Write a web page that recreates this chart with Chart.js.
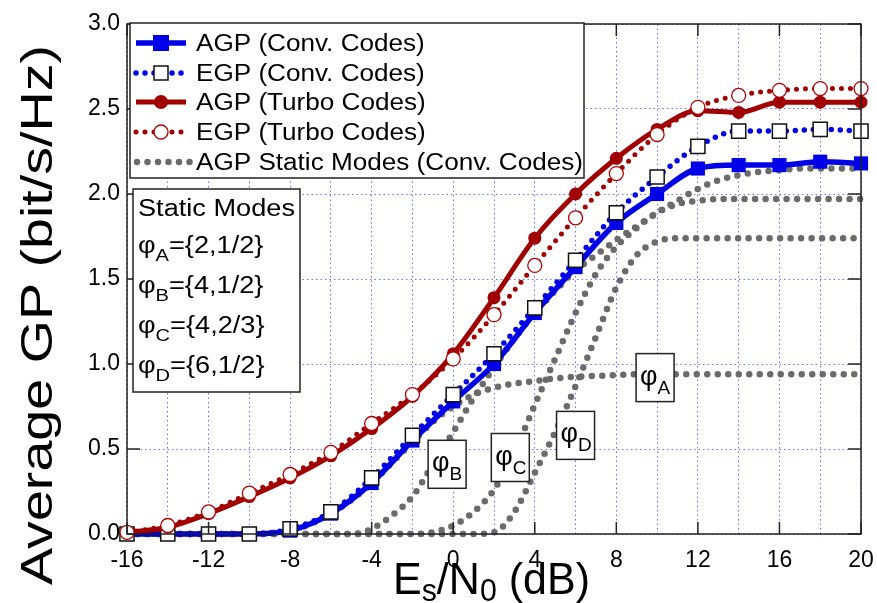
<!DOCTYPE html>
<html>
<head>
<meta charset="utf-8">
<script src="https://cdn.jsdelivr.net/npm/chart.js@4.4.1/dist/chart.umd.min.js"></script>
<style>
  html, body { margin: 0; padding: 0; background: #fff; }
  #wrap { width: 877px; height: 603px; }
</style>
</head>
<body>
<div id="wrap"><canvas id="myChart" width="877" height="603"></canvas></div>
<script>
// data
const snrMarked = [-16, -14, -12, -10, -8, -6, -4, -2, 0, 2, 4, 6, 8, 10, 12, 14, 16, 18, 20];
const agpConv  = [0, 0, 0, 0, 0.02, 0.12, 0.30, 0.55, 0.78, 1.00, 1.30, 1.57, 1.83, 2.00, 2.15, 2.17, 2.17, 2.19, 2.18];
const egpConv  = [0, 0, 0, 0, 0.03, 0.13, 0.33, 0.58, 0.82, 1.06, 1.33, 1.61, 1.89, 2.10, 2.28, 2.37, 2.37, 2.38, 2.37];
const agpTurbo = [0.01, 0.04, 0.12, 0.22, 0.33, 0.46, 0.62, 0.81, 1.06, 1.39, 1.74, 2.00, 2.21, 2.38, 2.49, 2.48, 2.54, 2.54, 2.54];
const egpTurbo = [0.01, 0.05, 0.13, 0.24, 0.35, 0.48, 0.65, 0.82, 1.03, 1.29, 1.58, 1.86, 2.12, 2.35, 2.51, 2.58, 2.61, 2.62, 2.62];

const snrStatic = [-16, -15, -14, -13, -12, -11, -10, -9, -8, -7, -6, -5, -4, -3, -2, -1, 0, 1, 2,
                   3, 4, 5, 6, 7, 8, 9, 10, 11, 12, 13, 14, 15, 16, 17, 18, 19, 20];
const phiA = [0, 0, 0, 0, 0, 0, 0, 0.005, 0.02, 0.06, 0.12, 0.20, 0.30, 0.42, 0.54, 0.66, 0.75, 0.82, 0.86,
              0.885, 0.90, 0.915, 0.925, 0.93, 0.935, 0.94, 0.94, 0.94, 0.94, 0.94, 0.94, 0.94, 0.94, 0.94, 0.94, 0.94, 0.94];
const phiB = [0, 0, 0, 0, 0, 0, 0, 0, 0, 0, 0, 0, 0.03, 0.11, 0.22, 0.41, 0.60, 0.80, 0.98,
              1.15, 1.30, 1.43, 1.55, 1.64, 1.73, 1.81, 1.89, 1.96, 2.03, 2.08, 2.11, 2.13, 2.14, 2.15, 2.15, 2.15, 2.15];
const phiC = [0, 0, 0, 0, 0, 0, 0, 0, 0, 0, 0, 0, 0, 0, 0, 0.01, 0.05, 0.13, 0.26,
              0.48, 0.76, 1.03, 1.30, 1.53, 1.69, 1.80, 1.89, 1.94, 1.96, 1.97, 1.97, 1.97, 1.97, 1.97, 1.97, 1.97, 1.97];
const phiD = [0, 0, 0, 0, 0, 0, 0, 0, 0, 0, 0, 0, 0, 0, 0, 0, 0, 0, 0.01,
              0.13, 0.36, 0.60, 0.87, 1.16, 1.45, 1.64, 1.72, 1.74, 1.74, 1.74, 1.74, 1.74, 1.74, 1.74, 1.74, 1.74, 1.74];

const legendLabels = ['AGP (Conv. Codes)', 'EGP (Conv. Codes)', 'AGP (Turbo Codes)', 'EGP (Turbo Codes)', 'AGP Static Modes (Conv. Codes)'];
const modeNames = ['A', 'B', 'C', 'D'];
const modeSets = ['={2,1/2}', '={4,1/2}', '={4,2/3}', '={6,1/2}'];
// where the little phi tags sit, in axis units
const tagX = [9.9, -0.3, 2.8, 6.0];
const tagY = [0.92, 0.41, 0.45, 0.58];

const FONT = '"Liberation Sans", Arial, sans-serif';
const BLUE = '#0000e8';
const RED = '#a00000';
const GRAY = '#6b6b6b';

const pts = (xs, ys) => xs.map((x, i) => ({ x: x, y: ys[i] }));

const staticStyle = {
  borderColor: GRAY, borderWidth: 6.5, borderDash: [0, 10.5], borderCapStyle: 'round',
  pointRadius: 0, cubicInterpolationMode: 'monotone', order: 10, clip: 12
};

const datasets = [
  Object.assign({ label: legendLabels[4], data: pts(snrStatic, phiA) }, staticStyle),
  Object.assign({ label: legendLabels[4], data: pts(snrStatic, phiB) }, staticStyle),
  Object.assign({ label: legendLabels[4], data: pts(snrStatic, phiC) }, staticStyle),
  Object.assign({ label: legendLabels[4], data: pts(snrStatic, phiD) }, staticStyle),
  {
    label: legendLabels[0], data: pts(snrMarked, agpConv),
    borderColor: BLUE, borderWidth: 5.5, cubicInterpolationMode: 'monotone',
    pointStyle: 'rect', pointRadius: 10, pointBackgroundColor: BLUE, pointBorderColor: BLUE, pointBorderWidth: 0,
    order: 4, clip: 12
  },
  {
    label: legendLabels[1], data: pts(snrMarked, egpConv),
    borderColor: BLUE, borderWidth: 5.5, borderDash: [0, 9], borderCapStyle: 'round', cubicInterpolationMode: 'monotone',
    pointStyle: 'rect', pointRadius: 10, pointBackgroundColor: '#fff', pointBorderColor: '#111', pointBorderWidth: 1.5,
    order: 3, clip: 12
  },
  {
    label: legendLabels[2], data: pts(snrMarked, agpTurbo),
    borderColor: RED, borderWidth: 5, cubicInterpolationMode: 'monotone',
    pointStyle: 'circle', pointRadius: 6.5, pointBackgroundColor: RED, pointBorderColor: RED, pointBorderWidth: 0,
    order: 2, clip: 12
  },
  {
    label: legendLabels[3], data: pts(snrMarked, egpTurbo),
    borderColor: RED, borderWidth: 5, borderDash: [0, 9], borderCapStyle: 'round', cubicInterpolationMode: 'monotone',
    pointStyle: 'circle', pointRadius: 7, pointBackgroundColor: '#fff', pointBorderColor: '#b00000', pointBorderWidth: 1.3,
    order: 1, clip: 12
  }
];

// text helpers: runs of [text, size, dy], squeezed or stretched to a width
function runsWidth(ctx, runs) {
  let w = 0;
  runs.forEach(r => { ctx.font = r[1] + 'px ' + FONT; w += ctx.measureText(r[0]).width; });
  return w;
}
function drawRuns(ctx, runs, x, y, sx) {
  let cx = x;
  runs.forEach(r => {
    ctx.save();
    ctx.font = r[1] + 'px ' + FONT;
    const w = ctx.measureText(r[0]).width;
    ctx.translate(cx, y + (r[2] || 0));
    ctx.scale(sx, 1);
    ctx.textAlign = 'left';
    ctx.textBaseline = 'alphabetic';
    ctx.fillText(r[0], 0, 0);
    ctx.restore();
    cx += w * sx;
  });
}

function sampleLine(ctx, x1, x2, y, color, width, dotted) {
  ctx.save();
  ctx.strokeStyle = color;
  ctx.lineWidth = width;
  ctx.lineCap = dotted ? 'round' : 'butt';
  ctx.setLineDash(dotted ? [0, 9] : []);
  ctx.beginPath();
  ctx.moveTo(x1, y);
  ctx.lineTo(x2, y);
  ctx.stroke();
  ctx.restore();
}

const decor = {
  id: 'decor',
  afterDatasetsDraw(chart) {
    const ctx = chart.ctx;
    const xs = chart.scales.x, ys = chart.scales.y;
    const a = chart.chartArea;

    // frame and inward ticks
    ctx.save();
    ctx.strokeStyle = '#222';
    ctx.lineWidth = 1.5;
    ctx.strokeRect(a.left, a.top, a.right - a.left, a.bottom - a.top);
    ctx.beginPath();
    for (let v = -16; v <= 20; v += 4) {
      const px = xs.getPixelForValue(v);
      ctx.moveTo(px, a.bottom); ctx.lineTo(px, a.bottom - 12);
      ctx.moveTo(px, a.top); ctx.lineTo(px, a.top + 12);
    }
    for (let v = 0; v <= 3; v += 0.5) {
      const py = ys.getPixelForValue(v);
      ctx.moveTo(a.left, py); ctx.lineTo(a.left + 13, py);
      ctx.moveTo(a.right, py); ctx.lineTo(a.right - 13, py);
    }
    ctx.stroke();
    ctx.restore();

    // phi tags on the static mode curves
    for (let i = 0; i < 4; i++) {
      const cx = xs.getPixelForValue(tagX[i]);
      const cy = ys.getPixelForValue(tagY[i]);
      ctx.save();
      ctx.fillStyle = '#fff';
      ctx.strokeStyle = '#222';
      ctx.lineWidth = 1.5;
      ctx.fillRect(cx - 19, cy - 24, 38, 48);
      ctx.strokeRect(cx - 19, cy - 24, 38, 48);
      ctx.fillStyle = '#000';
      drawRuns(ctx, [['φ', 27, 0], [modeNames[i], 19, 9]], cx - 15, cy + 7, 1);
      ctx.restore();
    }

    // legend box
    ctx.save();
    ctx.fillStyle = '#fff';
    ctx.fillRect(130, 23, 454, 155);
    ctx.strokeStyle = '#222';
    ctx.lineWidth = 1.5;
    ctx.strokeRect(130, 23, 454, 155);
    const rowY = [43, 73, 102, 132, 162];
    const sx = 387 / runsWidth(ctx, [[legendLabels[4], 23]]);
    ctx.fillStyle = '#000';
    legendLabels.forEach((t, i) => drawRuns(ctx, [[t, 23]], 196, rowY[i] + 8, sx));
    sampleLine(ctx, 136, 186, rowY[0], BLUE, 5.5, false);
    ctx.fillStyle = BLUE; ctx.fillRect(153, rowY[0] - 8, 16, 16);
    sampleLine(ctx, 136, 186, rowY[1], BLUE, 5.5, true);
    ctx.fillStyle = '#fff'; ctx.fillRect(154, rowY[1] - 7, 14, 14);
    ctx.strokeStyle = '#111'; ctx.lineWidth = 1.5; ctx.strokeRect(154, rowY[1] - 7, 14, 14);
    sampleLine(ctx, 136, 186, rowY[2], RED, 5, false);
    ctx.fillStyle = RED; ctx.beginPath(); ctx.arc(161, rowY[2], 7, 0, Math.PI * 2); ctx.fill();
    sampleLine(ctx, 136, 186, rowY[3], RED, 5, true);
    ctx.fillStyle = '#fff'; ctx.beginPath(); ctx.arc(161, rowY[3], 7, 0, Math.PI * 2); ctx.fill();
    ctx.strokeStyle = '#b00000'; ctx.lineWidth = 1.3; ctx.stroke();
    ctx.save();
    ctx.strokeStyle = GRAY; ctx.lineWidth = 6.5; ctx.lineCap = 'round'; ctx.setLineDash([0, 10.5]);
    ctx.beginPath(); ctx.moveTo(137, rowY[4]); ctx.lineTo(190, rowY[4]); ctx.stroke();
    ctx.restore();
    ctx.restore();

    // static modes box
    ctx.save();
    ctx.fillStyle = '#fff';
    ctx.fillRect(133, 189, 167, 203);
    ctx.strokeStyle = '#222';
    ctx.lineWidth = 1.5;
    ctx.strokeRect(133, 189, 167, 203);
    ctx.fillStyle = '#000';
    const sx2 = 157 / runsWidth(ctx, [['Static Modes', 23]]);
    drawRuns(ctx, [['Static Modes', 23]], 138, 216, sx2);
    const lineY = [253, 293, 333, 373];
    for (let i = 0; i < 4; i++) {
      drawRuns(ctx, [['φ', 23, 0], [modeNames[i], 17, 8], [modeSets[i], 23, 0]], 138, lineY[i], sx2);
    }
    ctx.restore();
  },
  afterDraw(chart) {
    const ctx = chart.ctx;
    ctx.save();
    ctx.fillStyle = '#000';
    // x title with subscripts
    const xr = [['E', 44, 0], ['s', 31, 7], ['/N', 44, 0], ['0', 31, 7], [' (dB)', 44, 0]];
    const sxx = 197 / runsWidth(ctx, xr);
    drawRuns(ctx, xr, 393, 594, sxx);
    // y title, rotated
    ctx.translate(52, 315);
    ctx.rotate(-Math.PI / 2);
    const yr = [['Average GP (bit/s/Hz)', 45, 0]];
    const syy = 540 / runsWidth(ctx, yr);
    drawRuns(ctx, yr, -270, 0, syy);
    ctx.restore();
  }
};

const ctx = document.getElementById('myChart');
new Chart(ctx, {
  type: 'line',
  data: { datasets: datasets },
  options: {
    responsive: false,
    animation: false,
    layout: { padding: { top: 24, right: 16, left: 0, bottom: 0 } },
    plugins: { legend: { display: false }, tooltip: { enabled: false } },
    elements: { line: { tension: 0 } },
    scales: {
      x: {
        type: 'linear', min: -16, max: 20,
        afterFit: s => { s.height = 69; s.paddingRight = 0; s.paddingLeft = 0; },
        ticks: {
          stepSize: 2, padding: 13, color: '#000', maxRotation: 0, autoSkip: false,
          font: { family: FONT, size: 23 },
          callback: v => (v % 4 === 0 ? String(v) : '')
        },
        grid: { color: 'rgba(95,95,255,0.9)', lineWidth: 1, drawTicks: false },
        border: { display: false, dash: [1.5, 3] }
      },
      y: {
        min: 0, max: 3,
        afterFit: s => { s.width = 127; s.paddingTop = 0; s.paddingBottom = 0; },
        ticks: {
          stepSize: 0.5, padding: 7, color: '#000',
          font: { family: FONT, size: 23 },
          callback: v => v.toFixed(1)
        },
        grid: { color: 'rgba(95,95,255,0.9)', lineWidth: 1, drawTicks: false },
        border: { display: false, dash: [1.5, 3] }
      }
    }
  },
  plugins: [decor]
});
</script>
</body>
</html>
